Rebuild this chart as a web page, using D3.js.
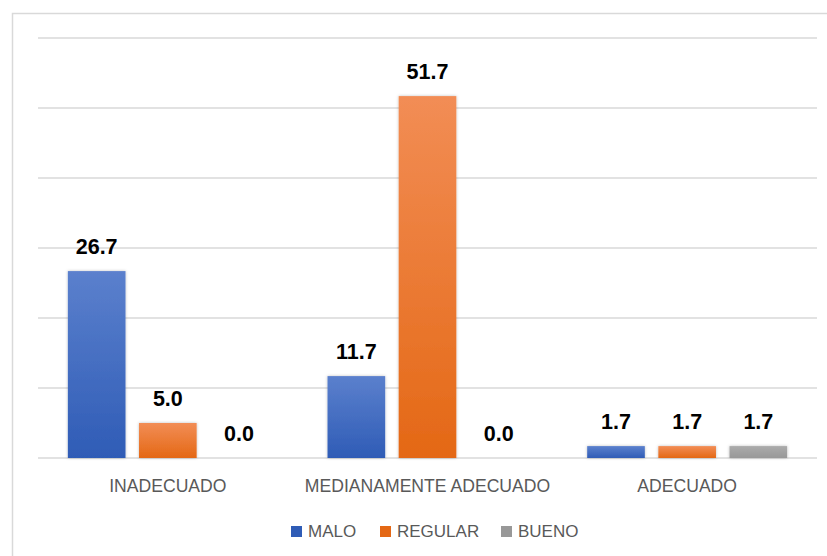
<!DOCTYPE html>
<html>
<head>
<meta charset="utf-8">
<script src="https://cdn.jsdelivr.net/npm/d3@7"></script>
<style>
  body { margin: 0; background: #fff; }
  svg { display: block; font-family: "Liberation Sans", Arial, sans-serif; }
</style>
</head>
<body>
<div id="chart"></div>
<script>
// chart data
const categories = ["INADECUADO", "MEDIANAMENTE ADECUADO", "ADECUADO"];
const seriesNames = ["MALO", "REGULAR", "BUENO"];
const malo = [26.7, 11.7, 1.7];
const regular = [5.0, 51.7, 1.7];
const bueno = [0.0, 0.0, 1.7];
const yTicks = [0, 10, 20, 30, 40, 50, 60];

const seriesValues = [malo, regular, bueno];
const colors = {
    MALO: ["#5b80cd", "#2f5cb6"],
    REGULAR: ["#f28d55", "#e46815"],
    BUENO: ["#ababab", "#989898"]
};

const width = 827, height = 556;
const margin = {top: 38, right: 10, bottom: 98, left: 38};

const svg = d3.select("#chart").append("svg")
    .attr("width", width)
    .attr("height", height);

// outer chart frame
svg.append("rect")
    .attr("x", 12.5).attr("y", 13.5)
    .attr("width", width).attr("height", height)
    .attr("fill", "none")
    .attr("stroke", "#d9d9d9")
    .attr("stroke-width", 1.5);

let defs = svg.append("defs");
seriesNames.forEach(function (s) {
    let g = defs.append("linearGradient")
        .attr("id", "grad-" + s)
        .attr("x1", 0).attr("y1", 0).attr("x2", 0).attr("y2", 1);
    g.append("stop").attr("offset", "0%").attr("stop-color", colors[s][0]);
    g.append("stop").attr("offset", "100%").attr("stop-color", colors[s][1]);
});
let filter = defs.append("filter").attr("id", "shadow")
    .attr("x", "-20%").attr("y", "-20%").attr("width", "140%").attr("height", "140%");
filter.append("feDropShadow")
    .attr("dx", 0).attr("dy", 0).attr("stdDeviation", 1.5)
    .attr("flood-color", "#000").attr("flood-opacity", 0.25);

let plotW = 817 - margin.left;
let plotH = 458 - margin.top;

let x0 = d3.scaleBand()
    .domain(categories)
    .range([margin.left, margin.left + plotW])
    .paddingInner(0.23)
    .paddingOuter(0.115);

let x1 = d3.scaleBand()
    .domain(seriesNames)
    .range([0, x0.bandwidth()])
    .paddingInner(0.19)
    .paddingOuter(0);

let y = d3.scaleLinear()
    .domain([0, 60])
    .range([margin.top + plotH, margin.top]);

// gridlines
svg.append("g").selectAll("line")
    .data(yTicks)
    .enter().append("line")
    .attr("x1", margin.left).attr("x2", margin.left + plotW)
    .attr("y1", d => y(d)).attr("y2", d => y(d))
    .attr("stroke", "#d9d9d9")
    .attr("stroke-width", 1.5);

// bars
let rows = [];
categories.forEach(function (c, i) {
    seriesNames.forEach(function (s, j) {
        rows.push({cat: c, series: s, value: seriesValues[j][i]});
    });
});

let bars = svg.append("g");
bars.selectAll("rect")
    .data(rows.filter(d => d.value > 0))
    .enter().append("rect")
    .attr("x", d => x0(d.cat) + x1(d.series))
    .attr("y", d => y(d.value))
    .attr("width", x1.bandwidth())
    .attr("height", d => y(0) - y(d.value))
    .attr("fill", d => "url(#grad-" + d.series + ")")
    .attr("filter", "url(#shadow)");

// value labels
svg.append("g").selectAll("text")
    .data(rows)
    .enter().append("text")
    .attr("x", d => x0(d.cat) + x1(d.series) + x1.bandwidth() / 2)
    .attr("y", d => y(d.value) - 17)
    .attr("text-anchor", "middle")
    .attr("font-size", "21.5px")
    .attr("font-weight", "bold")
    .attr("fill", "#000")
    .text(d => d.value.toFixed(1));

// category axis labels
svg.append("g").selectAll("text")
    .data(categories)
    .enter().append("text")
    .attr("x", d => x0(d) + x0.bandwidth() / 2)
    .attr("y", 492)
    .attr("text-anchor", "middle")
    .attr("font-size", "17.6px")
    .attr("fill", "#595959")
    .text(d => d);

// legend
let legendX = [291, 380, 501];
let legend = svg.append("g").selectAll("g")
    .data(seriesNames)
    .enter().append("g")
    .attr("transform", (d, i) => "translate(" + legendX[i] + ",537)");
legend.append("rect")
    .attr("x", 0).attr("y", -11)
    .attr("width", 11).attr("height", 11)
    .attr("fill", d => colors[d][1]);
legend.append("text")
    .attr("x", 17).attr("y", 0)
    .attr("font-size", "17px")
    .attr("fill", "#595959")
    .text(d => d);
</script>
</body>
</html>
